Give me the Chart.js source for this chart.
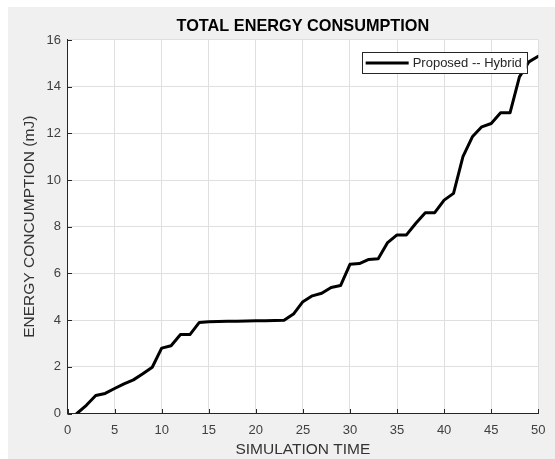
<!DOCTYPE html>
<html>
<head>
<meta charset="utf-8">
<script src="https://cdn.jsdelivr.net/npm/chart.js@4/dist/chart.umd.min.js"></script>
<style>
  html, body { margin: 0; padding: 0; background: #ffffff; }
  #wrap { width: 555px; height: 459px; }
</style>
</head>
<body>
<div id="wrap"><canvas id="c" width="555" height="459"></canvas></div>
<script>
// Simulation time steps and cumulative energy (mJ)
const simTime = [1, 2, 3, 4, 5, 6, 7, 8, 9, 10,
                 11, 12, 13, 14, 15, 16, 17, 18, 19, 20,
                 21, 22, 23, 24, 25, 26, 27, 28, 29, 30,
                 31, 32, 33, 34, 35, 36, 37, 38, 39, 40,
                 41, 42, 43, 44, 45, 46, 47, 48, 49, 50];
const energyHybrid = [0, 0.35, 0.77, 0.86, 1.07, 1.27, 1.44, 1.70, 1.98, 2.80,
                      2.90, 3.38, 3.38, 3.90, 3.93, 3.94, 3.95, 3.95, 3.96, 3.97,
                      3.97, 3.98, 3.99, 4.26, 4.79, 5.04, 5.15, 5.40, 5.48, 6.39,
                      6.42, 6.60, 6.63, 7.32, 7.65, 7.65, 8.15, 8.60, 8.60, 9.14,
                      9.43, 11.00, 11.85, 12.28, 12.42, 12.88, 12.88, 14.42, 15.06, 15.30];
const seriesLabel = 'Proposed -- Hybrid';
const xTicks = [0, 5, 10, 15, 20, 25, 30, 35, 40, 45, 50];
const yTicks = [0, 2, 4, 6, 8, 10, 12, 14, 16];

const AXIS_COLOR = '#262626';
const GRID_COLOR = '#dfdfdf';
const FONT = '"Liberation Sans", Arial, Helvetica, sans-serif';

// Grey figure panel and white axes background
const panelPlugin = {
  id: 'panel',
  beforeDraw(chart) {
    const { ctx, chartArea: a } = chart;
    ctx.save();
    ctx.fillStyle = '#ffffff';
    ctx.fillRect(0, 0, chart.width, chart.height);
    ctx.fillStyle = '#f0f0f0';
    ctx.fillRect(8, 7, chart.width - 8, chart.height - 7);
    ctx.fillStyle = '#ffffff';
    ctx.fillRect(a.left, a.top, a.right - a.left, a.bottom - a.top);
    ctx.restore();
  }
};

// Inward tick marks on the left and bottom axes
const innerTicksPlugin = {
  id: 'innerTicks',
  afterDatasetsDraw(chart) {
    const { ctx, chartArea: a, scales: { x, y } } = chart;
    const len = 4.5;
    ctx.save();
    ctx.strokeStyle = AXIS_COLOR;
    ctx.lineWidth = 1;
    ctx.beginPath();
    xTicks.forEach(v => {
      const px = Math.round(x.getPixelForValue(v)) + 0.5;
      ctx.moveTo(px, a.bottom);
      ctx.lineTo(px, a.bottom - len);
    });
    yTicks.forEach(v => {
      const py = Math.round(y.getPixelForValue(v)) + 0.5;
      ctx.moveTo(a.left, py);
      ctx.lineTo(a.left + len, py);
    });
    ctx.stroke();
    ctx.restore();
  }
};

// Boxed legend in the upper right of the axes
const boxLegendPlugin = {
  id: 'boxLegend',
  afterDraw(chart) {
    const { ctx, chartArea: a } = chart;
    const ds = chart.data.datasets[0];
    const right = a.right - 11.5;
    const top = a.top + 12;
    const h = 21;
    ctx.save();
    ctx.font = '13px ' + FONT;
    const tw = ctx.measureText(ds.label).width;
    const sample = 43;
    const w = 4 + sample + 4 + tw + 5;
    const left = right - w;
    ctx.fillStyle = '#ffffff';
    ctx.fillRect(left, top, w, h);
    ctx.strokeStyle = AXIS_COLOR;
    ctx.lineWidth = 1;
    ctx.strokeRect(Math.round(left) + 0.5, Math.round(top) + 0.5, Math.round(w), h);
    const cy = top + h / 2 + 0.5;
    ctx.strokeStyle = ds.borderColor;
    ctx.lineWidth = ds.borderWidth;
    ctx.beginPath();
    ctx.moveTo(left + 4, cy);
    ctx.lineTo(left + 4 + sample, cy);
    ctx.stroke();
    ctx.fillStyle = AXIS_COLOR;
    ctx.textBaseline = 'middle';
    ctx.textAlign = 'left';
    ctx.fillText(ds.label, left + 4 + sample + 4, cy);
    ctx.restore();
  }
};

new Chart(document.getElementById('c'), {
  type: 'line',
  data: {
    datasets: [{
      label: seriesLabel,
      data: simTime.map((t, i) => ({ x: t, y: energyHybrid[i] })),
      borderColor: '#000000',
      borderWidth: 3,
      pointRadius: 0,
      tension: 0,
      borderJoinStyle: 'round',
      borderCapStyle: 'round',
      fill: false
    }]
  },
  options: {
    responsive: false,
    animation: false,
    devicePixelRatio: 1,
    layout: { padding: { top: 0, left: 0, right: 15.5, bottom: 0 } },
    plugins: {
      legend: { display: false },
      tooltip: { enabled: false },
      title: {
        display: true,
        fullSize: false,
        text: 'TOTAL ENERGY CONSUMPTION',
        color: '#000000',
        font: { family: FONT, size: 16.3, weight: 'bold', lineHeight: 1.2 },
        padding: { top: 17.2, bottom: 3.2 }
      }
    },
    scales: {
      x: {
        type: 'linear',
        min: 0,
        max: 50,
        afterBuildTicks(scale) { scale.ticks = xTicks.map(v => ({ value: v })); },
        afterFit(scale) { scale.height = 45.5; },
        grid: { color: GRID_COLOR, drawTicks: false, lineWidth: 1 },
        border: { display: true, color: AXIS_COLOR, width: 1 },
        ticks: {
          color: '#404040',
          padding: 9.5,
          maxRotation: 0,
          font: { family: FONT, size: 13 }
        },
        title: {
          display: true,
          text: 'SIMULATION TIME',
          color: '#333333',
          font: { family: FONT, size: 15.5, lineHeight: 1.2 },
          padding: { top: 0, bottom: 0 }
        }
      },
      y: {
        type: 'linear',
        min: 0,
        max: 16,
        afterBuildTicks(scale) { scale.ticks = yTicks.map(v => ({ value: v })); },
        afterFit(scale) { scale.width = 67.5; },
        grid: { color: GRID_COLOR, drawTicks: false, lineWidth: 1 },
        border: { display: true, color: AXIS_COLOR, width: 1 },
        ticks: {
          color: '#404040',
          padding: 6.5,
          font: { family: FONT, size: 13 }
        },
        title: {
          display: true,
          text: 'ENERGY CONCUMPTION (mJ)',
          color: '#333333',
          font: { family: FONT, size: 15.5, lineHeight: 1.2 },
          padding: { top: 20.5, bottom: 0 }
        }
      }
    }
  },
  plugins: [panelPlugin, innerTicksPlugin, boxLegendPlugin]
});
</script>
</body>
</html>
